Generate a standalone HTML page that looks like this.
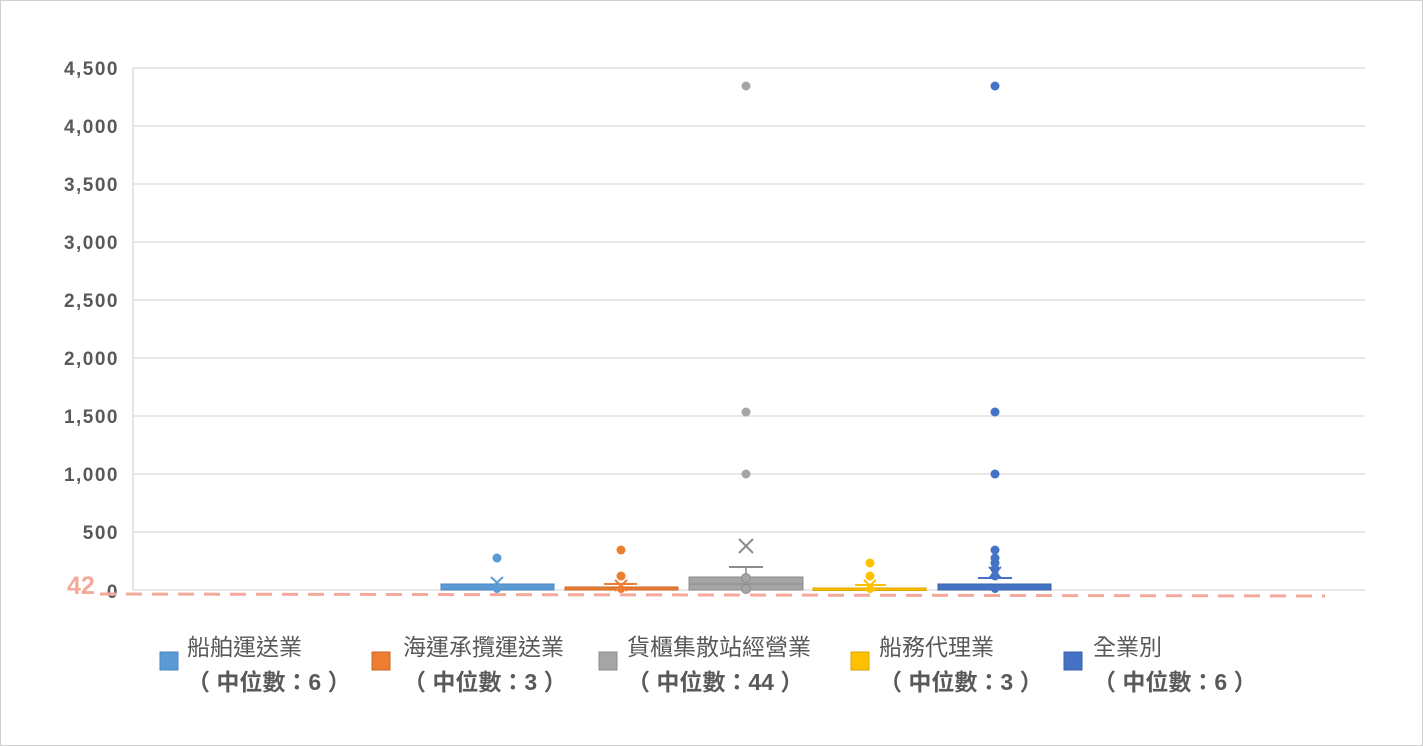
<!DOCTYPE html>
<html><head><meta charset="utf-8"><style>
body{margin:0;background:#fff;}
svg{display:block;font-family:"Liberation Sans","Noto Sans CJK TC",sans-serif;}
</style></head><body>
<svg width="1423" height="746" viewBox="0 0 1423 746">
<rect x="0.5" y="0.5" width="1422" height="745" fill="#fff" stroke="#d0d0d0"/>
<g stroke="#d9d9d9" stroke-width="1.3">
<line x1="133" x2="1365" y1="68" y2="68"/><line x1="133" x2="1365" y1="126" y2="126"/>
<line x1="133" x2="1365" y1="184" y2="184"/><line x1="133" x2="1365" y1="242" y2="242"/>
<line x1="133" x2="1365" y1="300" y2="300"/><line x1="133" x2="1365" y1="358" y2="358"/>
<line x1="133" x2="1365" y1="416" y2="416"/><line x1="133" x2="1365" y1="474" y2="474"/>
<line x1="133" x2="1365" y1="532" y2="532"/><line x1="133" x2="1365" y1="590" y2="590"/>
<line x1="133" x2="133" y1="68" y2="590"/>
</g>
<g fill="#595959" font-size="19" font-weight="bold" text-anchor="end" letter-spacing="1.5">
<text x="119" y="75">4,500</text><text x="119" y="133">4,000</text><text x="119" y="191">3,500</text>
<text x="119" y="249">3,000</text><text x="119" y="307">2,500</text><text x="119" y="365">2,000</text>
<text x="119" y="423">1,500</text><text x="119" y="481">1,000</text><text x="119" y="539">500</text>
<text x="119" y="598">0</text>
</g>
<!-- blue -->
<rect x="441" y="584" width="113" height="6" fill="#5b9bd5" stroke="#4a86c0"/>
<circle cx="497" cy="558" r="4.5" fill="#5b9bd5"/><circle cx="497" cy="589" r="4" fill="#5b9bd5"/>
<path d="M491 577l12 11M503 577l-12 11" stroke="#5b9bd5" stroke-width="2"/>
<!-- orange -->
<rect x="565" y="587" width="113" height="3" fill="#ed7d31" stroke="#c9652a"/>
<line x1="604" x2="637" y1="584" y2="584" stroke="#ed7d31" stroke-width="2"/>
<circle cx="621" cy="550" r="4.5" fill="#ed7d31"/><circle cx="621" cy="576" r="4.5" fill="#ed7d31"/><circle cx="621" cy="589" r="4" fill="#ed7d31"/>
<path d="M615 580l12 11M627 580l-12 11" stroke="#ed7d31" stroke-width="2"/>
<!-- gray -->
<rect x="689" y="577" width="114" height="13" fill="#a5a5a5" stroke="#8c8c8c"/>
<line x1="689" x2="803" y1="584" y2="584" stroke="#8c8c8c"/>
<line x1="746" x2="746" y1="567" y2="577" stroke="#8c8c8c" stroke-width="1.5"/>
<line x1="729" x2="763" y1="567" y2="567" stroke="#8c8c8c" stroke-width="2"/>
<circle cx="746" cy="86" r="4.5" fill="#a5a5a5"/><circle cx="746" cy="412" r="4.5" fill="#a5a5a5"/><circle cx="746" cy="474" r="4.5" fill="#a5a5a5"/>
<circle cx="746" cy="578" r="4.5" fill="#a5a5a5" stroke="#8c8c8c"/><circle cx="746" cy="589" r="4.5" fill="#a5a5a5" stroke="#8c8c8c"/>
<path d="M739 539l14 14M753 539l-14 14" stroke="#8c8c8c" stroke-width="2"/>
<!-- yellow -->
<rect x="813" y="588" width="113" height="2.5" fill="#ffc000" stroke="#d9a300"/>
<line x1="855" x2="886" y1="585" y2="585" stroke="#ffc000" stroke-width="2"/>
<circle cx="870" cy="563" r="4.5" fill="#ffc000"/><circle cx="870" cy="576" r="4.5" fill="#ffc000"/><circle cx="870" cy="589" r="4" fill="#ffc000"/>
<path d="M864 580l12 11M876 580l-12 11" stroke="#ffc000" stroke-width="2"/>
<!-- dark blue -->
<rect x="938" y="584" width="113" height="6" fill="#4472c4" stroke="#3a62a8"/>
<line x1="978" x2="1012" y1="578" y2="578" stroke="#4472c4" stroke-width="2"/>
<circle cx="995" cy="86" r="4.5" fill="#4472c4"/><circle cx="995" cy="412" r="4.5" fill="#4472c4"/><circle cx="995" cy="474" r="4.5" fill="#4472c4"/>
<circle cx="995" cy="550" r="4.5" fill="#4472c4"/><circle cx="995" cy="558" r="4.5" fill="#4472c4"/><circle cx="995" cy="563" r="4.5" fill="#4472c4"/><circle cx="995" cy="569" r="4.5" fill="#4472c4"/><circle cx="995" cy="576" r="4.5" fill="#4472c4"/><circle cx="995" cy="589" r="4" fill="#4472c4"/>
<path d="M989 567l12 11M1001 567l-12 11" stroke="#4472c4" stroke-width="2"/>
<!-- dashed -->
<line x1="100" y1="594" x2="1325" y2="596" stroke="#f4a99a" stroke-width="3" stroke-dasharray="16,10"/>
<text x="67" y="594" font-size="25" font-weight="bold" fill="#f4a99a">42</text>
<!-- legend -->
<g font-size="23" fill="#595959">
<rect x="160" y="652" width="18" height="18" fill="#5b9bd5" stroke="#4a86c0"/>
<text x="187" y="655">船舶運送業</text><text x="187" y="690" font-weight="bold">（ 中位數：6 ）</text>
<rect x="372" y="652" width="18" height="18" fill="#ed7d31" stroke="#c9652a"/>
<text x="403" y="655">海運承攬運送業</text><text x="403" y="690" font-weight="bold">（ 中位數：3 ）</text>
<rect x="599" y="652" width="18" height="18" fill="#a5a5a5" stroke="#8c8c8c"/>
<text x="627" y="655">貨櫃集散站經營業</text><text x="627" y="690" font-weight="bold">（ 中位數：44 ）</text>
<rect x="851" y="652" width="18" height="18" fill="#ffc000" stroke="#d9a300"/>
<text x="879" y="655">船務代理業</text><text x="879" y="690" font-weight="bold">（ 中位數：3 ）</text>
<rect x="1064" y="652" width="18" height="18" fill="#4472c4" stroke="#3a62a8"/>
<text x="1093" y="655">全業別</text><text x="1093" y="690" font-weight="bold">（ 中位數：6 ）</text>
</g>
</svg>
</body></html>
